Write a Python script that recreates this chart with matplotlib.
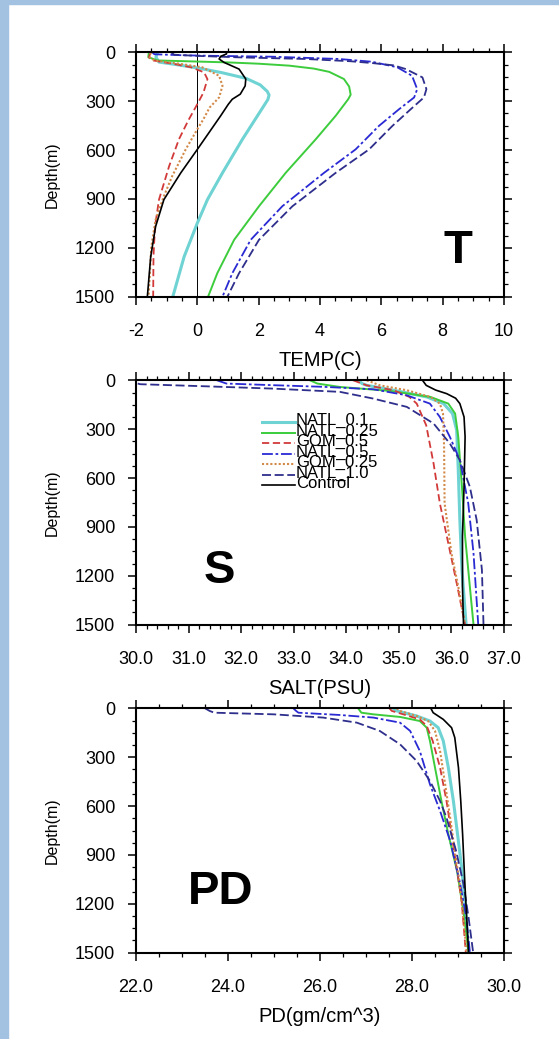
import matplotlib
matplotlib.use("Agg")
import matplotlib.pyplot as plt
from matplotlib.patches import Rectangle
from matplotlib.ticker import MultipleLocator, FormatStrFormatter

plt.rcParams["font.family"] = ["Liberation Sans", "DejaVu Sans"]
plt.rcParams["axes.unicode_minus"] = False

# series names, in legend order
names = ["NATL_0.1", "NATL_0.25", "GOM_0.5", "NATL_0.5", "GOM_0.25", "NATL_1.0", "Control"]

# ---- temperature (C) vs depth (m)
t_z_natl01 = [0, 30, 60, 75, 98, 125, 160, 200, 240, 262, 290, 390, 534, 740, 904, 1048, 1254, 1500]
t_natl01 = [-1.3, -1.35, -1.25, -0.7, 0.07, 0.8, 1.59, 2.05, 2.28, 2.34, 2.3, 1.96, 1.47, 0.82, 0.33, 0.0, -0.43, -0.8]
t_z_natl025 = [0, 30, 50, 62, 70, 82, 100, 120, 164, 210, 260, 288, 390, 534, 740, 945, 1151, 1356, 1500]
t_natl025 = [-1.58, -1.6, -1.3, 1.0, 2.0, 3.0, 3.8, 4.3, 4.78, 4.95, 5.0, 4.92, 4.51, 3.86, 2.88, 2.01, 1.2, 0.65, 0.35]
t_z_gom05 = [0, 31, 50, 70, 92, 123, 165, 247, 318, 420, 534, 699, 904, 1069, 1250, 1500]
t_gom05 = [-1.52, -1.58, -1.45, -0.8, -0.2, 0.22, 0.33, 0.2, 0.0, -0.3, -0.6, -0.92, -1.25, -1.38, -1.43, -1.44]
t_z_natl05 = [0, 12, 18, 21, 27, 41, 58, 92, 144, 226, 277, 349, 452, 596, 740, 945, 1151, 1356, 1500]
t_natl05 = [-1.47, -1.4, -0.5, 0.27, 2.45, 4.62, 5.7, 6.52, 7.0, 7.17, 7.07, 6.58, 5.92, 5.16, 4.13, 2.77, 1.74, 1.14, 0.82]
t_z_gom025 = [0, 31, 50, 70, 92, 144, 206, 277, 339, 410, 472, 596, 760, 883, 1027, 1192, 1500]
t_gom025 = [-1.52, -1.55, -1.4, -0.6, 0.16, 0.71, 0.82, 0.71, 0.4, 0.2, 0.0, -0.38, -0.82, -1.09, -1.36, -1.5, -1.59]
t_z_natl10 = [0, 15, 22, 31, 41, 55, 66, 80, 103, 154, 226, 277, 349, 452, 596, 740, 945, 1151, 1356, 1500]
t_natl10 = [-0.86, -0.75, 0.0, 1.36, 3.53, 5.0, 5.7, 6.4, 6.8, 7.34, 7.47, 7.39, 6.96, 6.36, 5.6, 4.51, 3.1, 2.01, 1.36, 0.98]
t_z_ctrl = [0, 10, 25, 41, 62, 103, 164, 206, 257, 288, 319, 390, 493, 596, 740, 904, 1069, 1254, 1500]
t_ctrl = [0.95, 0.95, 0.76, 0.71, 0.87, 1.36, 1.58, 1.56, 1.4, 1.14, 1.01, 0.76, 0.38, 0.0, -0.54, -1.09, -1.36, -1.52, -1.63]

# ---- salinity (PSU) vs depth (m)
s_z_natl01 = [0, 20, 31, 61, 102, 143, 204, 306, 551, 857, 1163, 1500]
s_natl01 = [34.23, 34.3, 34.39, 34.9, 35.53, 35.85, 36.02, 36.1, 36.13, 36.16, 36.2, 36.28]
s_z_natl025 = [0, 20, 41, 65, 102, 143, 204, 347, 653, 959, 1265, 1500]
s_natl025 = [33.31, 33.45, 33.88, 34.83, 35.6, 35.94, 36.07, 36.13, 36.2, 36.26, 36.35, 36.42]
s_z_gom05 = [0, 31, 61, 102, 143, 276, 510, 755, 1000, 1245, 1500]
s_gom05 = [34.13, 34.39, 34.9, 35.2, 35.34, 35.52, 35.66, 35.78, 35.94, 36.1, 36.26]
s_z_natl05 = [0, 20, 30, 40, 55, 92, 143, 225, 347, 490, 755, 1061, 1500]
s_natl05 = [31.54, 31.72, 32.61, 33.56, 34.51, 35.15, 35.59, 35.78, 35.97, 36.16, 36.32, 36.42, 36.51]
s_z_gom025 = [0, 31, 61, 102, 143, 204, 400, 755, 1061, 1265, 1500]
s_gom025 = [34.39, 34.64, 35.15, 35.6, 35.78, 35.84, 35.86, 35.87, 36.0, 36.13, 36.26]
s_z_natl10 = [0, 24, 37, 51, 71, 112, 163, 265, 388, 490, 653, 857, 1163, 1500]
s_natl10 = [29.8, 30.08, 31.34, 32.6, 33.88, 34.51, 35.15, 35.66, 35.97, 36.16, 36.35, 36.48, 36.58, 36.61]
s_z_ctrl = [0, 31, 60, 82, 110, 143, 225, 347, 653, 959, 1265, 1500]
s_ctrl = [35.45, 35.52, 35.7, 35.91, 36.08, 36.16, 36.24, 36.26, 36.24, 36.21, 36.21, 36.23]

# ---- potential density vs depth (m)
p_z_natl01 = [0, 16, 47, 78, 119, 200, 364, 569, 773, 978, 1183, 1500]
p_natl01 = [27.59, 27.67, 28.1, 28.39, 28.57, 28.68, 28.79, 28.9, 28.99, 29.08, 29.15, 29.23]
p_z_natl025 = [0, 16, 27, 37, 53, 78, 119, 200, 364, 569, 773, 1000, 1250, 1500]
p_natl025 = [26.83, 26.87, 26.9, 27.16, 27.74, 28.17, 28.32, 28.39, 28.5, 28.64, 28.79, 28.98, 29.12, 29.23]
p_z_gom05 = [0, 16, 37, 68, 108, 200, 364, 569, 773, 978, 1183, 1500]
p_gom05 = [27.51, 27.56, 27.81, 28.17, 28.32, 28.45, 28.61, 28.75, 28.86, 28.97, 29.08, 29.17]
p_z_natl05 = [0, 16, 27, 41, 57, 88, 139, 262, 466, 630, 814, 1080, 1285, 1500]
p_natl05 = [25.42, 25.48, 25.53, 26.43, 27.16, 27.74, 27.96, 28.17, 28.39, 28.61, 28.83, 29.05, 29.18, 29.26]
p_z_gom025 = [0, 16, 47, 78, 139, 262, 466, 671, 876, 1080, 1500]
p_gom025 = [27.67, 27.74, 28.1, 28.35, 28.5, 28.61, 28.72, 28.83, 28.93, 29.04, 29.19]
p_z_natl10 = [0, 16, 27, 37, 57, 88, 139, 221, 323, 446, 569, 671, 876, 1080, 1285, 1500]
p_natl10 = [23.5, 23.6, 23.7, 24.99, 26.07, 26.8, 27.3, 27.74, 28.1, 28.39, 28.61, 28.75, 28.96, 29.12, 29.23, 29.33]
p_z_ctrl = [0, 27, 68, 119, 180, 364, 569, 773, 1080, 1500]
p_ctrl = [28.41, 28.46, 28.68, 28.86, 28.93, 29.01, 29.06, 29.1, 29.15, 29.23]

colors = ["#6fd3d3", "#3ccc3c", "#d23a3a", "#2a2ad4", "#d28a48", "#2e2e8c", "black"]
styles = ["-", "-", (0, (4, 2)), (0, (6, 1.5, 1.5, 1.5)), (0, (1, 1)), (0, (5, 2)), "-"]
widths = [2.2, 1.4, 1.3, 1.3, 1.5, 1.3, 1.2]

fig = plt.figure(figsize=(5.59, 10.39), dpi=100)
# light blue frame on the left and top
fig.patches.append(Rectangle((0, 0), 7.5 / 559, 1, transform=fig.transFigure, color="#a3c1e0", zorder=0))
fig.patches.append(Rectangle((0, 1 - 4 / 1039), 1, 4 / 1039, transform=fig.transFigure, color="#a3c1e0", zorder=0))


def setup(ax, xlim, xmaj, xmin, fmt, xlabel, tag, tagpos):
    ax.set_xlim(*xlim)
    ax.set_ylim(1500, 0)
    ax.xaxis.set_major_locator(MultipleLocator(xmaj))
    ax.xaxis.set_minor_locator(MultipleLocator(xmin))
    ax.xaxis.set_major_formatter(FormatStrFormatter(fmt))
    ax.yaxis.set_major_locator(MultipleLocator(300))
    ax.yaxis.set_minor_locator(MultipleLocator(75))
    ax.tick_params(which="both", direction="out", top=True, right=True, labelsize=13, width=1.1)
    ax.tick_params(which="major", length=6)
    ax.tick_params(which="minor", length=3, width=0.9)
    ax.tick_params(axis="x", which="major", pad=13)
    ax.tick_params(axis="y", which="major", pad=9)
    for sp in ax.spines.values():
        sp.set_linewidth(1.5)
    ax.set_xlabel(xlabel, fontsize=14.5, labelpad=8)
    ax.set_ylabel("Depth(m)", fontsize=11.5, labelpad=11)
    ax.text(tagpos[0], tagpos[1], tag, transform=ax.transAxes, fontsize=34,
            fontweight="bold", ha="center", va="center")


def draw(ax, zs, vals):
    for z, v, c, ls, lw, nm in zip(zs, vals, colors, styles, widths, names):
        ax.plot(v, z, color=c, linestyle=ls, linewidth=lw, label=nm)


ax1 = fig.add_axes([136 / 559, 1 - 296.7 / 1039, 368 / 559, 244.4 / 1039])
ax1.axvline(0, color="black", linewidth=0.7)
draw(ax1,
     [t_z_natl01, t_z_natl025, t_z_gom05, t_z_natl05, t_z_gom025, t_z_natl10, t_z_ctrl],
     [t_natl01, t_natl025, t_gom05, t_natl05, t_gom025, t_natl10, t_ctrl])
setup(ax1, (-2, 10), 2, 0.5, "%d", "TEMP(C)", "T", (0.874, 0.189))

ax2 = fig.add_axes([136 / 559, 1 - 624.7 / 1039, 368 / 559, 244.4 / 1039])
draw(ax2,
     [s_z_natl01, s_z_natl025, s_z_gom05, s_z_natl05, s_z_gom025, s_z_natl10, s_z_ctrl],
     [s_natl01, s_natl025, s_gom05, s_natl05, s_gom025, s_natl10, s_ctrl])
setup(ax2, (30, 37), 1, 0.2, "%.1f", "SALT(PSU)", "S", (0.2255, 0.218))

# NCL-style tight legend: short line, label sitting just above it, rows overlapping
leg_x0, leg_x1, leg_y0, leg_dy = 0.342, 0.432, 0.828, 0.043
for i, (nm, c, ls, lw) in enumerate(zip(names, colors, styles, widths)):
    y = leg_y0 - i * leg_dy
    ax2.plot([leg_x0, leg_x1], [y, y], transform=ax2.transAxes, color=c,
             linestyle=ls, linewidth=lw, clip_on=False)
    ax2.text(leg_x1 + 0.002, y - 0.011, nm, transform=ax2.transAxes, fontsize=12,
             ha="left", va="baseline")

ax3 = fig.add_axes([136 / 559, 1 - 952.7 / 1039, 368 / 559, 244.4 / 1039])
draw(ax3,
     [p_z_natl01, p_z_natl025, p_z_gom05, p_z_natl05, p_z_gom025, p_z_natl10, p_z_ctrl],
     [p_natl01, p_natl025, p_gom05, p_natl05, p_gom025, p_natl10, p_ctrl])
setup(ax3, (22, 30), 2, 0.5, "%.1f", "PD(gm/cm^3)", "PD", (0.2296, 0.2504))

fig.savefig("out.png", dpi=100)
